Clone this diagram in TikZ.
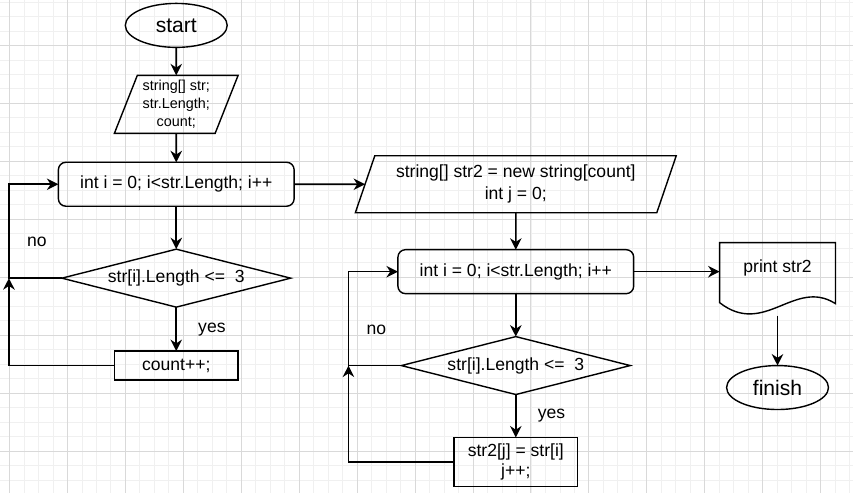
\documentclass[tikz,border=0pt]{standalone}
\usepackage{fontspec}
\setmainfont{Liberation Sans}
\usetikzlibrary{shapes.geometric, arrows.meta, positioning, calc}

\begin{document}
\begin{tikzpicture}[
    font=\fontsize{10}{12}\selectfont,
    node distance=0.86cm and 1.5cm,
    every node/.style={outer sep=0pt},
    startstop/.style={ellipse, draw, line width=0.8pt, minimum width=2.04cm, minimum height=0.88cm, font=\fontsize{12}{14}\selectfont},
    io/.style={trapezium, trapezium left angle=68, trapezium right angle=112, trapezium stretches=true, draw, line width=0.8pt, align=center, inner sep=1pt},
    loopbox/.style={rectangle, draw, rounded corners=0.15cm, line width=0.8pt, minimum width=4.72cm, minimum height=0.88cm},
    decision/.style={diamond, draw, aspect=3.95, line width=0.8pt, minimum width=4.58cm, minimum height=1.16cm, inner sep=1pt},
    process/.style={rectangle, draw, line width=0.8pt, minimum width=2.48cm, align=center},
    printout/.style={rectangle, minimum width=2.32cm, minimum height=1.0cm},
    arrow/.style={-{Stealth[length=2.3mm, width=2.3mm]}, line width=0.9pt},
    lbl/.style={inner sep=0pt}
]
    % Grid
    \fill[white] (-0.18,0.9) rectangle (16.88,-8.96);
    \draw[step=0.29cm, black!6, line width=0.4pt] (-0.18,0.9) grid (16.88,-8.96);
    \draw[step=1.16cm, black!15, line width=0.5pt] (-0.18,0.9) grid (16.88,-8.96);
    \useasboundingbox (-0.18,0.9) rectangle (16.88,-8.96);

    % Start
    \node[startstop] (start) at (3.34,0.40) {start};

    % Input
    \node[io, below=0.56cm of start, minimum width=2.48cm, minimum height=1.16cm, font=\fontsize{8.2}{10.2}\selectfont] (input) {string[] str;\\str.Length;\\count;};

    % First loop
    \node[loopbox, below=0.58cm of input] (loop1) {int i = 0; i<str.Length; i++};
    \node[decision, below=0.86cm of loop1] (check1) {str[i].Length <=\ \ 3};
    \node[process, below=0.88cm of check1, minimum height=0.58cm] (count) {count++;};
    \coordinate[left=1.06cm of check1] (back1);

    % New array
    \node[io, right=1.42cm of loop1, minimum width=6.44cm, minimum height=1.14cm, font=\fontsize{10}{12.3}\selectfont] (output) {string[] str2 = new string[count]\\int j = 0;};

    % Second loop
    \node[loopbox, below=0.74cm of output] (loop2) {int i = 0; i<str.Length; i++};
    \node[decision, below=0.86cm of loop2] (check2) {str[i].Length <=\ \ 3};
    \node[process, below=0.86cm of check2, minimum height=0.9cm, font=\fontsize{10}{11.9}\selectfont] (copy) {str2[j] = str[i]\\j++;};
    \coordinate[left=1.06cm of check2] (back2);

    % Print
    \node[printout, right=1.72cm of loop2, yshift=0.08cm] (print) {print str2};
    \draw[line width=0.8pt] (print.north west) -- (print.north east) -- ($(print.south east)+(0,-0.22)$)
        .. controls ($(print.south east)+(-0.82,0.3)$) and ($(print.south east)+(-1.42,-0.9)$) .. ($(print.south west)+(0,-0.2)$) -- cycle;

    % Finish
    \node[startstop, below=1.46cm of print] (finish) {finish};

    % Labels
    \node[lbl] (no1) at ($(back1)+(0.56,0.72)$) {no};
    \node[lbl] (no2) at ($(back2)+(0.56,0.72)$) {no};

    % Arrows
    \draw[arrow] (start) -- (input);
    \draw[arrow] (input) -- (loop1);
    \draw[arrow] (loop1) -- (check1);
    \draw[arrow] (check1) -- node[lbl, right=0.44cm] {yes} (count);
    \draw[arrow] (check1) -- (back1) |- (loop1);
    \draw[arrow] (count) -| (back1);
    \draw[arrow] (loop1) -- (output);
    \draw[arrow] (output) -- (loop2);
    \draw[arrow] (loop2) -- (check2);
    \draw[arrow] (check2) -- node[lbl, right=0.44cm] {yes} (copy);
    \draw[arrow] (check2) -- (back2) |- (loop2);
    \draw[arrow] (copy) -| (back2);
    \draw[arrow] (loop2.east) -- (loop2.east -| print.west);
    \draw[arrow, shorten <=0.46cm] (print.south) -- (finish);

\end{tikzpicture}
\end{document}
